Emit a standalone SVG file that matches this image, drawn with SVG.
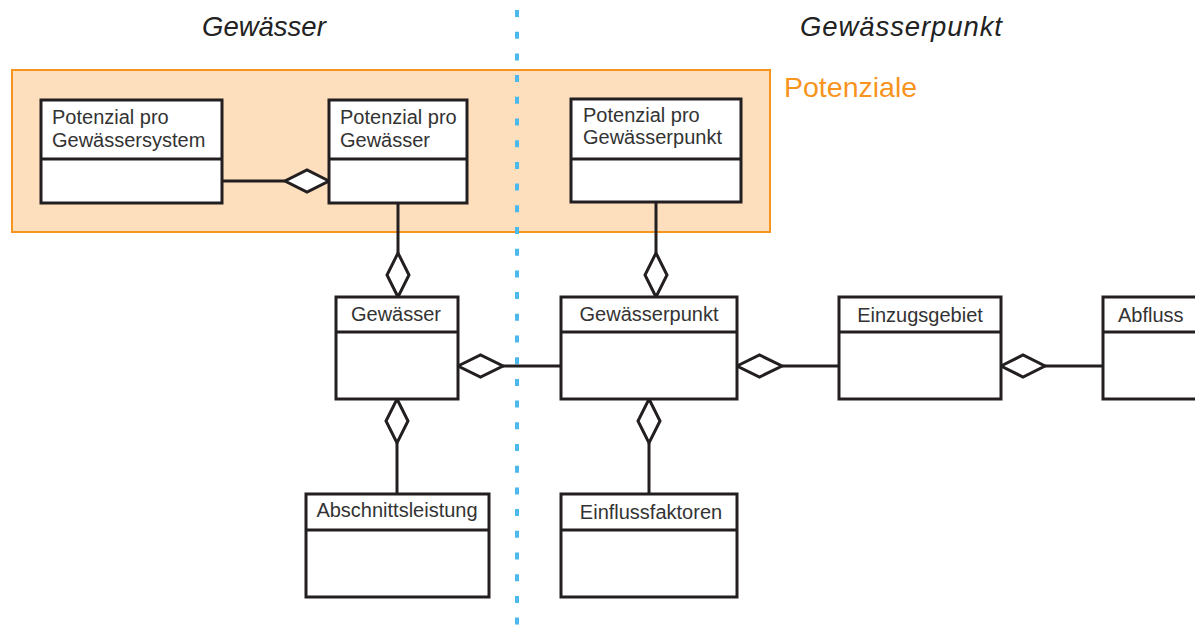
<svg xmlns="http://www.w3.org/2000/svg" width="1195" height="627" viewBox="0 0 1195 627">
<style>
.box{fill:#fff;stroke:#231f20;stroke-width:3}
.div{stroke:#231f20;stroke-width:3}
.t{font-family:"Liberation Sans",Arial,sans-serif;font-size:20px;fill:#333}
.tc{text-anchor:middle}
.title{font-family:"Liberation Sans",Arial,sans-serif;font-size:27.5px;font-style:italic;fill:#222}
.con{stroke:#231f20;stroke-width:3;fill:none}
.dia{fill:#fff;stroke:#231f20;stroke-width:3;stroke-linejoin:miter}
</style>
<rect width="1195" height="627" fill="#fff"/>
<g id="potenziale">
<rect x="12" y="70" width="758" height="162" fill="#fddfbd" stroke="#f7941d" stroke-width="2"/>
<text x="784" y="97" font-family="'Liberation Sans',Arial,sans-serif" font-size="28.5" fill="#f7941d">Potenziale</text>
</g>
<g id="divider">
<line x1="517" y1="10" x2="517" y2="627" stroke="#4cb9ec" stroke-width="4" stroke-dasharray="7 14.7"/>
</g>
<g id="titles">
<text class="title" x="202" y="36">Gewässer</text>
<text class="title" x="800" y="36" textLength="202">Gewässerpunkt</text>
</g>
<g id="connectors">
<line class="con" x1="222" y1="181" x2="285" y2="181"/>
<polygon class="dia" points="329,181 307,170 285,181 307,192"/>
<line class="con" x1="398" y1="203" x2="398" y2="253"/>
<polygon class="dia" points="398,297 387,275 398,253 409,275"/>
<line class="con" x1="656" y1="202" x2="656" y2="253"/>
<polygon class="dia" points="656,297 645,275 656,253 667,275"/>
<line class="con" x1="503" y1="366" x2="561" y2="366"/>
<polygon class="dia" points="458,366 480.5,355 503,366 480.5,377"/>
<line class="con" x1="782" y1="366" x2="839" y2="366"/>
<polygon class="dia" points="737,366 759.5,355 782,366 759.5,377"/>
<line class="con" x1="1045" y1="366" x2="1103" y2="366"/>
<polygon class="dia" points="1001,366 1023,355 1045,366 1023,377"/>
<line class="con" x1="397" y1="443" x2="397" y2="494"/>
<polygon class="dia" points="397,399 408,421 397,443 386,421"/>
<line class="con" x1="649" y1="443" x2="649" y2="494"/>
<polygon class="dia" points="649,399 660,421 649,443 638,421"/>
</g>
<g id="pot-system">
<rect class="box" x="41" y="100" width="181" height="103"/>
<line class="div" x1="41" y1="159" x2="222" y2="159"/>
<text class="t" x="52" y="124">Potenzial pro</text>
<text class="t" x="52" y="147">Gewässersystem</text>
</g>
<g id="pot-gewaesser">
<rect class="box" x="329" y="100" width="138" height="103"/>
<line class="div" x1="329" y1="159" x2="467" y2="159"/>
<text class="t" x="340" y="124">Potenzial pro</text>
<text class="t" x="340" y="147">Gewässer</text>
</g>
<g id="pot-punkt">
<rect class="box" x="571" y="99" width="170" height="103"/>
<line class="div" x1="571" y1="159" x2="741" y2="159"/>
<text class="t" x="583" y="122">Potenzial pro</text>
<text class="t" x="583" y="144">Gewässerpunkt</text>
</g>
<g id="gewaesser">
<rect class="box" x="336" y="297" width="122" height="102"/>
<line class="div" x1="336" y1="332" x2="458" y2="332"/>
<text class="t tc" x="396" y="321">Gewässer</text>
</g>
<g id="gewaesserpunkt">
<rect class="box" x="561" y="297" width="176" height="102"/>
<line class="div" x1="561" y1="332" x2="737" y2="332"/>
<text class="t tc" x="649" y="321">Gewässerpunkt</text>
</g>
<g id="einzugsgebiet">
<rect class="box" x="839" y="297" width="162" height="102"/>
<line class="div" x1="839" y1="332" x2="1001" y2="332"/>
<text class="t tc" x="920" y="322">Einzugsgebiet</text>
</g>
<g id="abfluss">
<rect class="box" x="1103" y="297" width="100" height="102"/>
<line class="div" x1="1103" y1="332" x2="1203" y2="332"/>
<text class="t" x="1118" y="322">Abfluss</text>
</g>
<g id="abschnittsleistung">
<rect class="box" x="306" y="494" width="183" height="103"/>
<line class="div" x1="306" y1="530" x2="489" y2="530"/>
<text class="t tc" x="397" y="517">Abschnittsleistung</text>
</g>
<g id="einflussfaktoren">
<rect class="box" x="561" y="494" width="176" height="103"/>
<line class="div" x1="561" y1="530" x2="737" y2="530"/>
<text class="t tc" x="651" y="519">Einflussfaktoren</text>
</g>
</svg>
